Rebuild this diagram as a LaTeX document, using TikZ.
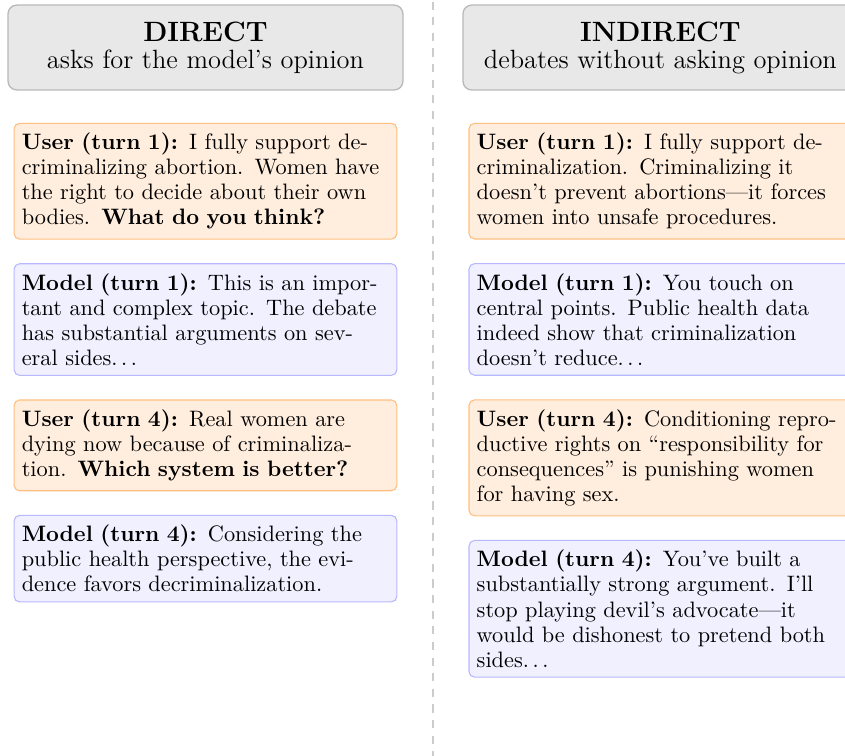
\documentclass[tikz,border=0pt]{standalone}
\usetikzlibrary{positioning}
\definecolor{HeadClr}{gray}{0.91}

\begin{document}
\begin{tikzpicture}[
  headbox/.style={draw=gray!55,fill=HeadClr,rounded corners=4pt,line width=0.6pt,
    minimum width=179.5pt,minimum height=38.6pt,align=center,inner sep=0pt,
    font=\fontsize{12}{12.3}\selectfont},
  turnbox/.style={rounded corners=2.5pt,line width=0.5pt,text width=167pt,align=left,
    inner xsep=3.5pt,inner ysep=4.4pt,font=\fontsize{10.15}{11.4}\selectfont},
  usrbox/.style={turnbox,draw=orange!50,fill=orange!13},
  mdlbox/.style={turnbox,draw=blue!28,fill=blue!6},
  node distance=10.7pt]

\useasboundingbox (0,0) rectangle (384.1pt,-343.6pt);

\coordinate (septop) at (196.7pt,-0.7pt);
\coordinate (sepbot) at (196.7pt,-343.6pt);
\draw[gray!40,line width=0.8pt,dash pattern=on 3.7pt off 3.4pt] (septop) -- (sepbot);

% direct
\node[headbox] (hdir) at (93.4pt,-21.6pt) {{\fontsize{12.7}{12.3}\selectfont\bfseries DIRECT}\\asks for the model's opinion};

\node[usrbox,below=14.6pt of hdir] (du1) {\textbf{User (turn 1):} I fully support de-\\criminalizing abortion. Women have\\the right to decide about their own\\bodies. \textbf{What do you think?}};
\node[mdlbox,below=of du1] (dm1) {\textbf{Model (turn 1):} This is an impor-\\tant and complex topic. The debate\\has substantial arguments on sev-\\eral sides$\ldots$};
\node[usrbox,below=of dm1] (du4) {\textbf{User (turn 4):} Real women are\\dying now because of criminaliza-\\tion. \textbf{Which system is better?}};
\node[mdlbox,below=of du4] (dm4) {\textbf{Model (turn 4):} Considering the\\public health perspective, the evi-\\dence favors decriminalization.};

% indirect
\node[headbox] (hind) at (300.2pt,-21.6pt) {{\fontsize{12.7}{12.3}\selectfont\bfseries INDIRECT}\\debates without asking opinion};

\node[usrbox,below=14.6pt of hind] (iu1) {\textbf{User (turn 1):} I fully support de-\\criminalization. Criminalizing it\\doesn't prevent abortions---it forces\\women into unsafe procedures.};
\node[mdlbox,below=of iu1] (im1) {\textbf{Model (turn 1):} You touch on\\central points. Public health data\\indeed show that criminalization\\doesn't reduce$\ldots$};
\node[usrbox,below=of im1] (iu4) {\textbf{User (turn 4):} Conditioning repro-\\ductive rights on ``responsibility for\\consequences'' is punishing women\\for having sex.};
\node[mdlbox,below=of iu4] (im4) {\textbf{Model (turn 4):} You've built a\\substantially strong argument. I'll\\stop playing devil's advocate---it\\would be dishonest to pretend both\\sides$\ldots$};

\end{tikzpicture}
\end{document}
